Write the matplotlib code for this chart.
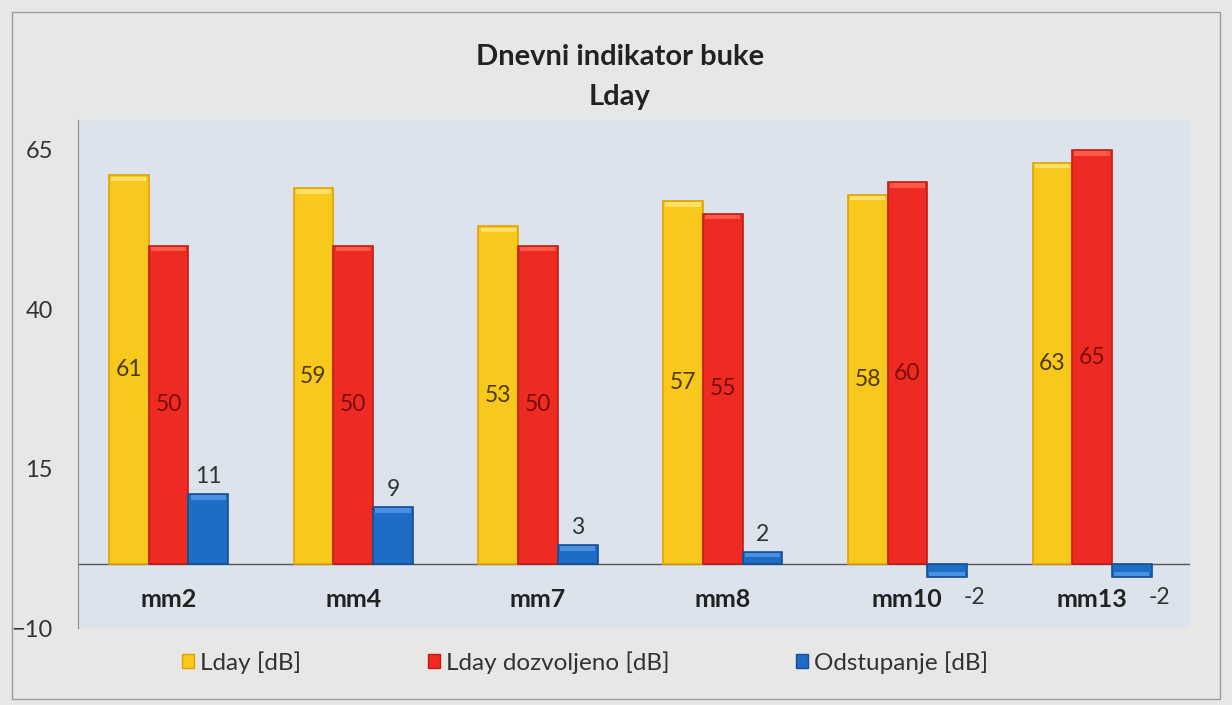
import matplotlib
matplotlib.use("Agg")
import matplotlib.pyplot as plt
from matplotlib.patches import Rectangle, Patch
import numpy as np

plt.rcParams['font.family'] = ['Lato', 'DejaVu Sans']

categories = ["mm2", "mm4", "mm7", "mm8", "mm10", "mm13"]
lday = [61, 59, 53, 57, 58, 63]
lday_allowed = [50, 50, 50, 55, 60, 65]
deviation = [11, 9, 3, 2, -2, -2]
series_names = ["Lday [dB]", "Lday dozvoljeno [dB]", "Odstupanje [dB]"]
yticks = [-10, 15, 40, 65]
title_lines = ["Dnevni indikator buke", "Lday"]

fig = plt.figure(figsize=(12.32, 7.05), dpi=100)
fig.patch.set_facecolor("#e7e7e5")
fig.add_artist(Rectangle((0.010, 0.008), 0.980, 0.975, transform=fig.transFigure,
                         fill=False, edgecolor="#9a9a9a", linewidth=1.0))

ax = fig.add_axes([0.0633, 0.1092, 0.9026, 0.7206])
ax.set_facecolor("#dce3ed")

x = np.arange(len(categories))
w = 0.215
yellow, red, blue = "#f8c81c", "#ee2b22", "#1f6cc4"
b1 = ax.bar(x - w, lday, w, color=yellow, edgecolor="#e3a200", linewidth=1.2, zorder=3)
b2 = ax.bar(x, lday_allowed, w, color=red, edgecolor="#c41c14", linewidth=1.2, zorder=3)
b3 = ax.bar(x + w, deviation, w, color=blue, edgecolor="#154f96", linewidth=1.2, zorder=3)

# highlight strips for a bevel look
for bars, hl in ((b1, "#ffe066"), (b2, "#ff5a4a"), (b3, "#4a90e0")):
    for r in bars:
        h = r.get_height()
        y0 = h - 0.9 if h > 0 else h + 0.15
        ax.add_patch(Rectangle((r.get_x() + 0.012, y0), r.get_width() - 0.024, 0.7,
                               color=hl, zorder=4, linewidth=0))

ax.set_xlim(-0.49, 5.53)
ax.set_ylim(-10, 69.7)
ax.axhline(0, color="#555555", linewidth=1.0, zorder=2)
ax.set_yticks(yticks)
ax.tick_params(axis='y', length=0, pad=18, labelsize=17, labelcolor="#333333")
ax.set_xticks([])
for s in ("top", "right", "bottom"):
    ax.spines[s].set_visible(False)
ax.spines["left"].set_color("#8a8a8a")

for i, c in enumerate(categories):
    ax.text(i, -5.6, c, ha="center", va="center", fontsize=18, fontweight="bold", color="#222222")

for r, v in zip(b1, lday):
    ax.text(r.get_x() + r.get_width() / 2, v / 2, str(v), ha="center", va="center",
            fontsize=16.5, color="#4a3a00", zorder=5)
for r, v in zip(b2, lday_allowed):
    ax.text(r.get_x() + r.get_width() / 2, v / 2, str(v), ha="center", va="center",
            fontsize=16.5, color="#7a0d0d", zorder=5)
for r, v in zip(b3, deviation):
    cx = r.get_x() + r.get_width() / 2
    if v >= 0:
        ax.annotate(str(v), (cx, v), xytext=(0, 5), textcoords="offset points",
                    ha="center", va="bottom", fontsize=16.5, color="#333333")
    else:
        ax.annotate(str(v), (cx, v), xytext=(20, -15), textcoords="offset points",
                    ha="center", va="center", fontsize=16.5, color="#333333")

fig.text(0.503, 0.919, title_lines[0], ha="center", va="center", fontsize=21,
         fontweight="bold", color="#222222")
fig.text(0.503, 0.862, title_lines[1], ha="center", va="center", fontsize=21,
         fontweight="bold", color="#222222")

handles = [Patch(facecolor=yellow, edgecolor="#e3a200"),
           Patch(facecolor=red, edgecolor="#c41c14"),
           Patch(facecolor=blue, edgecolor="#154f96")]
fig.legend(handles, series_names, loc="center", bbox_to_anchor=(0.475, 0.06), ncol=3,
           frameon=False, fontsize=17.5, handlelength=0.5, handleheight=0.5,
           handletextpad=0.25, columnspacing=5.2, labelcolor="#333333")

fig.savefig("out.png", dpi=100, facecolor=fig.get_facecolor())
